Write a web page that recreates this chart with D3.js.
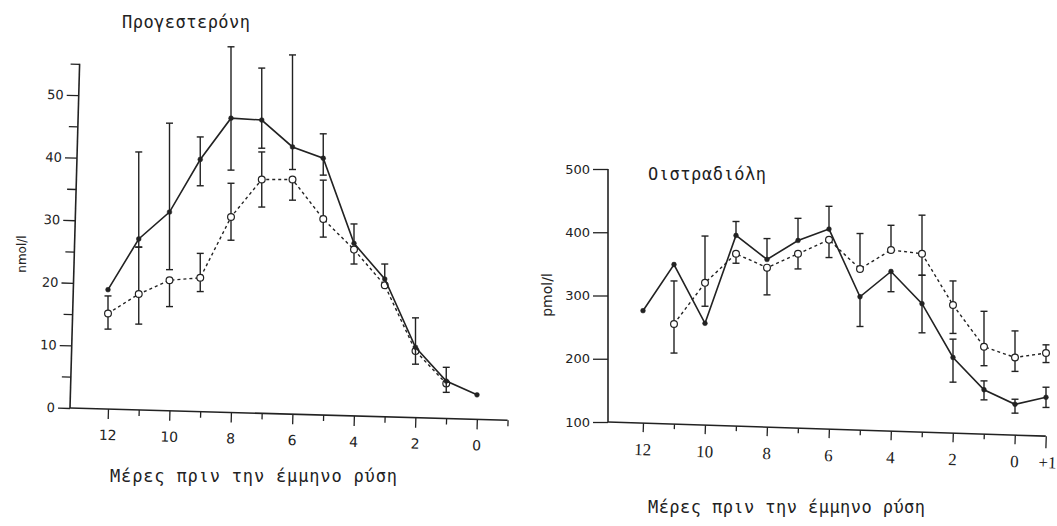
<!DOCTYPE html>
<html>
<head>
<meta charset="utf-8">
<script src="https://cdn.jsdelivr.net/npm/d3@7"></script>
<style>
body{margin:0;background:#fff}
svg{display:block}
</style>
</head>
<body>
<svg id="chart" width="1057" height="526"></svg>
<script>
"use strict";

// Προγεστερόνη (nmol/l)
const progDays = [12, 11, 10, 9, 8, 7, 6, 5, 4, 3, 2, 1, 0];
const progSolid = [18.9, 27.0, 31.3, 39.7, 46.3, 46.0, 41.7, 39.9, 26.3, 20.6, 9.7, 4.3, 2.1];
const progSolidHi = [null, 40.9, 45.5, 43.3, 57.7, 54.3, 56.4, 43.8, 29.4, 23.0, 14.4, 6.5, null];
const progSolidLo = [null, 25.7, 22.1, 35.5, 38.0, 41.5, 38.1, 37.2, null, null, 7.0, 2.5, null];
const progOpen = [15.1, 18.2, 20.4, 20.8, 30.5, 36.5, 36.5, 30.2, 25.3, 19.6, 9.1, 3.9, null];
const progOpenHi = [17.9, 25.7, null, 24.7, 35.9, 40.9, null, 36.4, null, null, null, null, null];
const progOpenLo = [12.6, 13.4, 16.2, 18.6, 26.8, 32.1, 33.2, 27.3, 23.0, null, null, null, null];
const progYTicks = [0, 5, 10, 15, 20, 25, 30, 35, 40, 45, 50, 55];
const progXTicks = [12, 11, 10, 9, 8, 7, 6, 5, 4, 3, 2, 1, 0, -1];

// Οιστραδιόλη (pmol/l), -1 is the day after (+1)
const estDays = [12, 11, 10, 9, 8, 7, 6, 5, 4, 3, 2, 1, 0, -1];
const estSolid = [276, 349, 256, 395, 357, 387, 405, 298, 338, 287, 202, 151, 128, 139];
const estSolidHi = [null, null, null, 417, 390, 422, 441, null, null, 332, 231, 165, 136, 155];
const estSolidLo = [null, null, null, null, null, null, null, 251, 306, 241, 163, 135, 114, 123];
const estOpen = [null, 255, 320, 366, 344, 366, 388, 342, 372, 366, 285, 219, 202, 209];
const estOpenHi = [null, 323, 394, null, null, null, null, 398, 411, 427, 323, 275, 244, 222];
const estOpenLo = [null, 209, 283, 351, 301, 342, 360, null, null, 332, 240, 189, 180, 194];
const estYTicks = [100, 200, 300, 400, 500];
const estXTicks = [12, 11, 10, 9, 8, 7, 6, 5, 4, 3, 2, 1, 0, -1];

const xTitle = "Μέρες πριν την έμμηνο ρύση";
const ink = "#222";
const mono = "DejaVu Sans Mono";
const svg = d3.select("#chart");

function addText(txt, x, y, opts){
  const t = svg.append("text").attr("x", x).attr("y", y).text(txt)
    .attr("fill", ink).attr("font-family", opts.font || mono).attr("font-size", opts.size);
  if (opts.len) t.attr("textLength", opts.len).attr("lengthAdjust", "spacing");
  if (opts.rotate) t.attr("transform", `rotate(-90,${x},${y})`).attr("text-anchor", "middle");
  return t;
}

function drawSeries(g, x, y, days, mean, lo, hi, open){
  const bars = g.append("g").attr("stroke", ink).attr("stroke-width", 1.4);
  days.forEach((d, i) => {
    if (mean[i] == null || (lo[i] == null && hi[i] == null)) return;
    const top = hi[i] == null ? mean[i] : hi[i];
    const bot = lo[i] == null ? mean[i] : lo[i];
    bars.append("line").attr("x1", x(d)).attr("x2", x(d)).attr("y1", y(top)).attr("y2", y(bot));
    [hi[i], lo[i]].filter(v => v != null).forEach(v => {
      bars.append("line").attr("x1", x(d) - 3.5).attr("x2", x(d) + 3.5).attr("y1", y(v)).attr("y2", y(v));
    });
  });

  const pts = days.map((d, i) => [d, mean[i]]);
  const line = d3.line().defined(p => p[1] != null).x(p => x(p[0])).y(p => y(p[1]));
  g.append("path").attr("d", line(pts)).attr("fill", "none").attr("stroke", ink)
    .attr("stroke-width", open ? 1.4 : 1.6).attr("stroke-dasharray", open ? "3,3" : null);

  g.append("g").selectAll("circle").data(pts.filter(p => p[1] != null)).join("circle")
    .attr("cx", p => x(p[0])).attr("cy", p => y(p[1]))
    .attr("r", open ? 3.4 : 2.4)
    .attr("fill", open ? "#fff" : ink)
    .attr("stroke", ink).attr("stroke-width", open ? 1.2 : 0.5);
}

function styleAxis(ax, font, size){
  ax.attr("font-family", font).attr("font-size", size);
  ax.select(".domain").remove();
  ax.selectAll(".tick line").attr("stroke", ink).attr("stroke-width", 1.3);
  ax.selectAll(".tick text").attr("fill", ink);
}

// ---------- Προγεστερόνη ----------
{
  const x = d3.scaleLinear().domain([12, 0]).range([108, 477]);
  const y = d3.scaleLinear().domain([0, 55]).range([408, 63.7]);
  const ox = 70, oy = 408;
  const axes = svg.append("g").attr("transform", `rotate(1.6,${ox},${oy})`);

  const yAx = axes.append("g").attr("transform", `translate(${ox},0)`)
    .call(d3.axisLeft(y).tickValues(progYTicks).tickSize(12).tickPadding(3)
      .tickFormat(d => d % 10 ? "" : d));
  styleAxis(yAx, "DejaVu Sans", 13);
  yAx.selectAll(".tick line").attr("x2", d => d % 10 ? -9 : -12);
  axes.append("line").attr("x1", ox).attr("x2", ox).attr("y1", y(0)).attr("y2", y(55))
    .attr("stroke", ink).attr("stroke-width", 1.6);

  const xAx = axes.append("g").attr("transform", `translate(0,${oy})`)
    .call(d3.axisBottom(x).tickValues(progXTicks).tickSize(10)
      .tickFormat(d => d % 2 || d < 0 ? "" : d));
  styleAxis(xAx, "DejaVu Sans", 14);
  xAx.selectAll(".tick line").attr("y2", d => d % 2 || d < 0 ? 6 : 10);
  xAx.selectAll(".tick text").attr("y", 21);
  axes.append("line").attr("x1", ox).attr("x2", x(-1)).attr("y1", oy).attr("y2", oy)
    .attr("stroke", ink).attr("stroke-width", 1.6);

  const g = svg.append("g");
  drawSeries(g, x, y, progDays, progOpen, progOpenLo, progOpenHi, true);
  drawSeries(g, x, y, progDays, progSolid, progSolidLo, progSolidHi, false);

  addText("Προγεστερόνη", 122, 28, {size: 17, len: 128});
  addText(xTitle, 110, 482, {size: 17, len: 287});
  addText("nmol/l", 26, 254, {font: "DejaVu Sans", size: 12, rotate: true});
}

// ---------- Οιστραδιόλη ----------
{
  const x = d3.scaleLinear().domain([12, -1]).range([643, 1046]);
  const y = d3.scaleLinear().domain([100, 500]).range([422, 169]);
  const ox = 608, oy = 422;

  const yAx = svg.append("g").attr("transform", `translate(${ox},0)`)
    .call(d3.axisLeft(y).tickValues(estYTicks).tickSize(15).tickPadding(3));
  styleAxis(yAx, "DejaVu Sans", 13);
  svg.append("line").attr("x1", ox).attr("x2", ox).attr("y1", y(100)).attr("y2", y(500))
    .attr("stroke", ink).attr("stroke-width", 1.6);

  const axes = svg.append("g").attr("transform", `rotate(1.85,${ox},${oy})`);
  const xAx = axes.append("g").attr("transform", `translate(0,${oy})`)
    .call(d3.axisBottom(x).tickValues(estXTicks).tickSize(10)
      .tickFormat(d => d < 0 ? "+1" : (d % 2 ? "" : d)));
  styleAxis(xAx, "Liberation Serif", 17);
  xAx.selectAll(".tick line").attr("y2", d => d % 2 && d > 0 ? 5 : (d < 0 ? 12 : 9));
  xAx.selectAll(".tick text").attr("y", 20).attr("dx", d => d < 0 ? 2 : 0);
  axes.append("line").attr("x1", ox).attr("x2", x(-1)).attr("y1", oy).attr("y2", oy)
    .attr("stroke", ink).attr("stroke-width", 1.6);

  const g = svg.append("g");
  drawSeries(g, x, y, estDays, estOpen, estOpenLo, estOpenHi, true);
  drawSeries(g, x, y, estDays, estSolid, estSolidLo, estSolidHi, false);

  addText("Οιστραδιόλη", 648, 180, {size: 17, len: 118});
  addText(xTitle, 648, 513, {size: 17, len: 277});
  addText("pmol/l", 552, 295, {font: "DejaVu Sans", size: 14, rotate: true});
}
</script>
</body>
</html>
